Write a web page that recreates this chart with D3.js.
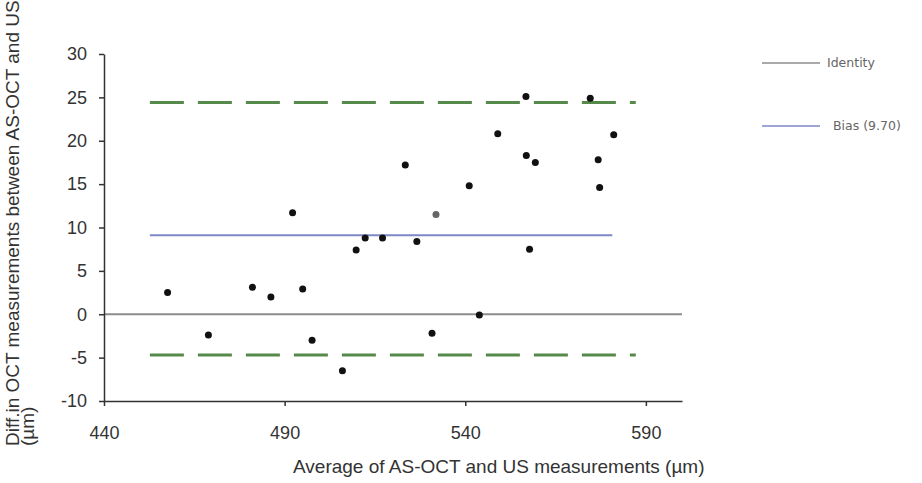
<!DOCTYPE html>
<html>
<head>
<meta charset="utf-8">
<script src="https://cdn.jsdelivr.net/npm/d3@7"></script>
<style>
  body { margin: 0; background: #fff; }
  svg { display: block; font-family: "Liberation Sans", Arial, sans-serif; }
  .axis path, .axis line { stroke: #333; stroke-width: 1.5; }
  .axis text { fill: #333; font-size: 18px; }
  .label { fill: #333; font-size: 19px; }
  .legend { fill: #666; font-size: 12.5px; font-family: "DejaVu Sans", sans-serif; }
</style>
</head>
<body>
<svg id="chart" width="922" height="483"></svg>
<script>
// average of the two measurements (x) and their difference (y)
var avgValues  = [457.6, 468.9, 481.1, 486.2, 492.2, 495.0, 497.6, 506.0, 509.8, 512.3,
                  517.1, 523.4, 526.6, 530.8, 531.9, 541.1, 543.9, 549.0, 556.8, 556.9,
                  559.4, 557.8, 574.6, 576.8, 577.2, 581.1];
var diffValues = [2.5, -2.4, 3.1, 2.0, 11.7, 2.9, -3.0, -6.5, 7.4, 8.8,
                  8.8, 17.2, 8.4, -2.2, 11.5, 14.8, -0.1, 20.8, 25.1, 18.3,
                  17.5, 7.5, 24.9, 17.8, 14.6, 20.7];

var xTicks = [440, 490, 540, 590];
var yTicks = [-10, -5, 0, 5, 10, 15, 20, 25, 30];

var biasValue = 9.1;          // where the blue line sits
var biasRange = [452.7, 580.7];
var loaUpper = 24.4, loaLower = -4.7;
var loaRange = [452.7, 587.2];

var legendItems = [
  {name: 'Identity', color: '#8c8c8c'},
  {name: 'Bias (9.70)', color: '#7f88c6'}
];

var svg = d3.select('#chart');

var x = d3.scaleLinear().domain([440, 600]).range([104, 682]);
var y = d3.scaleLinear().domain([-10, 30]).range([401, 54]);

// identity line across the whole plot
svg.append('line')
  .attr('x1', x(440)).attr('x2', x(600))
  .attr('y1', y(0)).attr('y2', y(0))
  .attr('stroke', '#8c8c8c').attr('stroke-width', 2);

// bias line
svg.append('line')
  .attr('x1', x(biasRange[0])).attr('x2', x(biasRange[1]))
  .attr('y1', y(biasValue)).attr('y2', y(biasValue))
  .attr('stroke', '#7f88c6').attr('stroke-width', 2);

// limits of agreement
[loaUpper, loaLower].forEach(function (v) {
  svg.append('line')
    .attr('x1', x(loaRange[0])).attr('x2', x(loaRange[1]))
    .attr('y1', y(v)).attr('y2', y(v))
    .attr('stroke', '#568a4a').attr('stroke-width', 3)
    .attr('stroke-dasharray', '34,14');
});

var plain = function (d) { return String(d); };

svg.append('g')
  .attr('class', 'axis')
  .attr('transform', 'translate(' + x(440) + ',0)')
  .call(d3.axisLeft(y).tickValues(yTicks).tickFormat(plain)
    .tickSize(5).tickSizeOuter(0).tickPadding(12));

svg.append('g')
  .attr('class', 'axis')
  .attr('transform', 'translate(0,' + y(-10) + ')')
  .call(d3.axisBottom(x).tickValues(xTicks).tickFormat(plain)
    .tickSize(5).tickSizeOuter(0).tickPadding(20));

// points
svg.selectAll('circle.pt')
  .data(avgValues)
  .enter()
  .append('circle')
  .attr('class', 'pt')
  .attr('cx', function (d) { return x(d); })
  .attr('cy', function (d, i) { return y(diffValues[i]); })
  .attr('r', 3.5)
  .attr('fill', function (d, i) { return i == 14 ? '#666' : '#111'; });

// axis titles
svg.append('text')
  .attr('class', 'label')
  .attr('x', 293)
  .attr('y', 473)
  .text('Average of AS-OCT and US measurements (\u00b5m)');

var yl = svg.append('text')
  .attr('class', 'label')
  .attr('transform', 'translate(19,446) rotate(-90)');
yl.append('tspan').attr('x', 0).attr('dy', 0).text('Diff.in OCT measurements between AS-OCT and US');
yl.append('tspan').attr('x', 0).attr('dy', 15).text('(\u00b5m)');

// legend
var leg = svg.selectAll('g.leg')
  .data(legendItems)
  .enter()
  .append('g')
  .attr('class', 'leg')
  .attr('transform', function (d, i) { return 'translate(762,' + (63 + i * 63) + ')'; });

leg.append('line')
  .attr('x1', 0).attr('x2', 58)
  .attr('stroke', function (d) { return d.color; })
  .attr('stroke-width', 1.5);

leg.append('text')
  .attr('class', 'legend')
  .attr('x', function (d, i) { return i == 0 ? 65 : 71; })
  .attr('dy', '0.35em')
  .text(function (d) { return d.name; });
</script>
</body>
</html>
